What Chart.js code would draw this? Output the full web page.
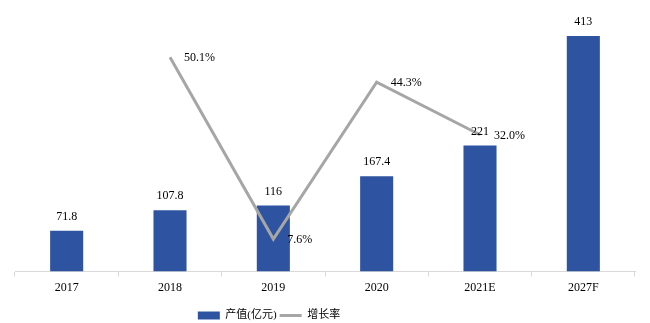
<!DOCTYPE html>
<html>
<head>
<meta charset="utf-8">
<script src="https://cdn.jsdelivr.net/npm/chart.js@4/dist/chart.umd.min.js"></script>
<style>
  html, body { margin: 0; padding: 0; background: #fff; }
  #wrap { width: 650px; height: 323px; }
</style>
</head>
<body>
<div id="wrap"><canvas id="c"></canvas></div>
<script>
/* 数据 */
const years = ['2017', '2018', '2019', '2020', '2021E', '2027F'];
const output = [71.8, 107.8, 116, 167.4, 221, 413];          // 产值(亿元)
const growth = [null, 50.1, 7.6, 44.3, 32.0, null];           // 增长率 %

const FONT = '"Liberation Serif", "Times New Roman", "Noto Sans CJK SC", serif';

/* 数据标签 + 图例左移 */
const labelPlugin = {
  id: 'labels',
  afterUpdate(chart) {
    // 参考图的图例偏左
    if (chart.legend) chart.legend.right -= 112;
  },
  afterDatasetsDraw(chart) {
    const ctx = chart.ctx;
    ctx.save();
    ctx.font = '12px ' + FONT;
    ctx.fillStyle = '#000';
    // 柱子数值
    const bars = chart.getDatasetMeta(0).data;
    ctx.textAlign = 'center';
    ctx.textBaseline = 'bottom';
    bars.forEach((b, i) => {
      ctx.fillText(String(output[i]), b.x, b.y - 8);
    });
    // 增长率
    const pts = chart.getDatasetMeta(1).data;
    ctx.textAlign = 'left';
    ctx.textBaseline = 'middle';
    pts.forEach((p, i) => {
      if (growth[i] == null) return;
      ctx.fillText(growth[i].toFixed(1) + '%', p.x + 14, p.y + 1);
    });
    ctx.restore();
  },
};

new Chart(document.getElementById('c'), {
  type: 'bar',
  data: {
    labels: years,
    datasets: [
      {
        type: 'bar',
        label: '产值(亿元)',
        data: output,
        backgroundColor: '#2E54A1',
        borderWidth: 0,
        categoryPercentage: 1,
        barPercentage: 0.32,
        pointStyle: 'rect',
        yAxisID: 'y',
        order: 2,
      },
      {
        type: 'line',
        label: '增长率',
        data: growth,
        borderColor: '#A6A6A6',
        backgroundColor: '#A6A6A6',
        borderWidth: 3,
        tension: 0,
        pointRadius: 0,
        pointStyle: 'line',
        spanGaps: false,
        yAxisID: 'y2',
        order: 1,
      },
    ],
  },
  options: {
    responsive: true,
    maintainAspectRatio: false,
    animation: false,
    layout: { padding: { left: 15, right: 15, top: 15, bottom: -8 } },
    plugins: {
      legend: {
        position: 'bottom',
        labels: {
          color: '#000',
          font: { size: 11, family: FONT },
          usePointStyle: true,
          pointStyleWidth: 22,
          boxWidth: 22,
          boxHeight: 8,
          padding: 3,
          sort: (a, b) => a.datasetIndex - b.datasetIndex,
        },
      },
      tooltip: { enabled: false },
    },
    scales: {
      x: {
        grid: { display: true, drawOnChartArea: false, color: '#D9D9D9', tickLength: 5, offset: true },
        border: { color: '#D9D9D9', width: 1 },
        ticks: { color: '#000', font: { size: 12, family: FONT }, padding: 4 },
        afterFit(scale) { scale.height += 8; },
      },
      y: { display: false, min: 0, max: 450 },
      y2: { display: false, min: 0, max: 60 },
    },
  },
  plugins: [labelPlugin],
});
</script>
</body>
</html>
